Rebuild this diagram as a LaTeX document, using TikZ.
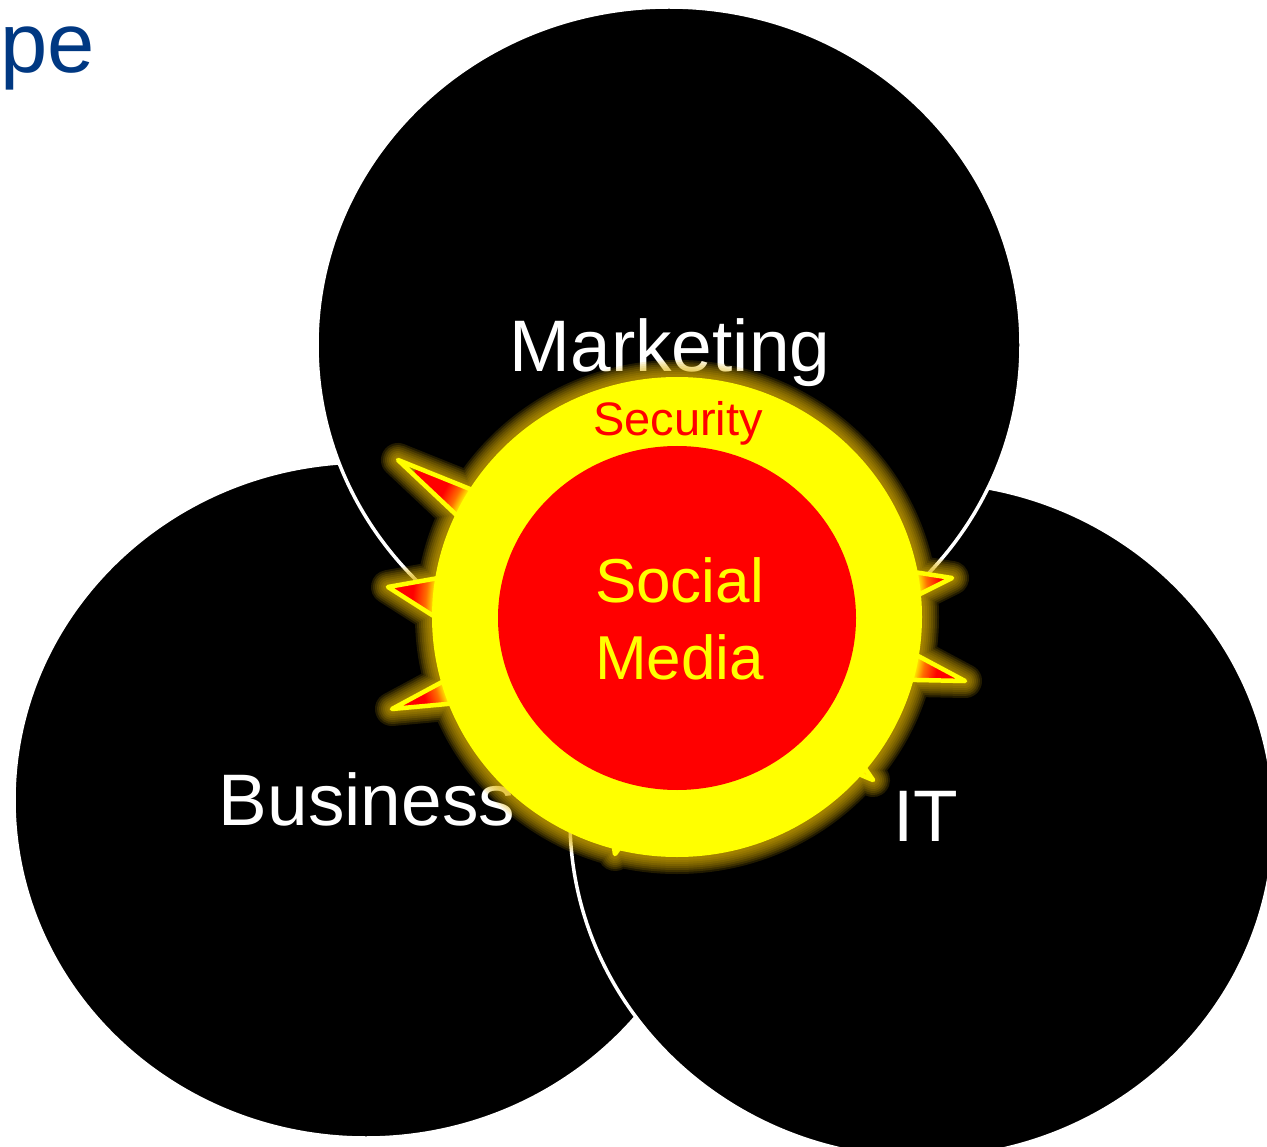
\documentclass[tikz,border=0pt]{standalone}
\usepackage{fontspec}
\setmainfont{Liberation Sans}
\definecolor{titleblue}{RGB}{0,56,130}
\definecolor{glowcol}{RGB}{225,180,0}
\definecolor{pureyellow}{RGB}{255,255,0}
\definecolor{purered}{RGB}{255,0,0}
\definecolor{spikeorange}{RGB}{255,110,0}
\pgfdeclareradialshading{spikeshade}{\pgfpoint{0bp}{0bp}}{color(0bp)=(pureyellow); color(20.2bp)=(pureyellow); color(21bp)=(spikeorange); color(22.1bp)=(purered); color(50bp)=(purered)}
\def\starpath{(677,420) -- (542,518) -- (398,460) -- (501,557) -- (500,567) -- (388,587) -- (498,657) -- (507,647) -- (392,709) -- (535,696) -- (602,770) -- (615,854) -- (665,787) -- (794,747) -- (873,780) -- (825,710) -- (821,678) -- (965,681) -- (830,609) -- (832,638) -- (952,578) -- (824,558) -- cycle}
\tikzset{
  venn/.style={fill=black, draw=white, line width=3.5pt},
  outerlabel/.style={text=white, inner sep=0pt, font=\fontsize{73}{88}\selectfont},
  glowline/.style={draw=glowcol, opacity=0.15, line join=round},
  spikeline/.style={draw=pureyellow, line width=4.5pt, line join=round},
}
\begin{document}
\begin{tikzpicture}[x=1pt,y=-1pt]
\useasboundingbox (0,0) rectangle (1267,1147);
\clip (0,0) rectangle (1267,1147);
\fill[white] (0,0) rectangle (1267,1147);
% three circles
\path[venn] (366,800) ellipse [x radius=352, y radius=338];
\path[venn] (922,820) ellipse [x radius=352, y radius=338];
\path[venn] (669,345) ellipse [x radius=352, y radius=338];
% title fragment
\node[anchor=base west, text=titleblue, inner sep=0pt, font=\fontsize{85}{100}\selectfont] (title) at (0,73) {pe};
% labels
\node[outerlabel, anchor=base] (marketing) at (670,372) {Marketing};
\node[outerlabel, anchor=base] (business) at (367,825) {Business};
\node[outerlabel, anchor=base west] (it) at (893,841) {IT};
% glow
\foreach \w in {34,30,26,22,18,14,10,6} {
  \path[glowline, line width=\w pt] \starpath (677,617) ellipse [x radius=245, y radius=240];
}
% spikes
\begin{scope}
  \clip \starpath;
  \shade[shading=spikeshade] (677,617) circle [radius=300];
\end{scope}
\path[spikeline] \starpath;
% security ring and core
\fill[pureyellow] (677,617) ellipse [x radius=245, y radius=240];
\fill[purered] (677,618) ellipse [x radius=179, y radius=172];
\node[text=purered, anchor=base, inner sep=0pt, font=\fontsize{47}{56}\selectfont] (security) at (678,436) {Security};
\node[text=pureyellow, anchor=south, align=center, inner sep=0pt, font=\fontsize{62}{77}\selectfont] (social) at (679.5,680) {Social\\Media};
\end{tikzpicture}
\end{document}
